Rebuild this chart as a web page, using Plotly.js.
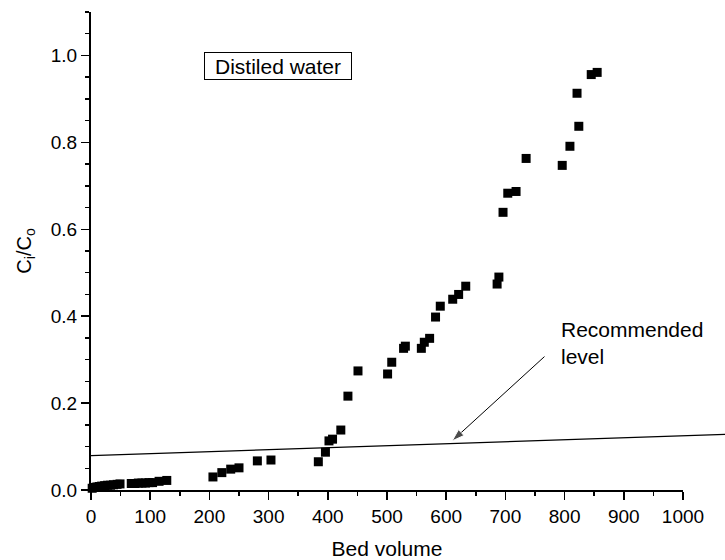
<!DOCTYPE html>
<html>
<head>
<meta charset="utf-8">
<script src="https://cdn.plot.ly/plotly-3.0.1.min.js"></script>
<style>html,body{margin:0;padding:0;background:#fff;}#chart{width:725px;height:560px;}</style>
</head>
<body>
<div id="chart"></div>
<script>
// Bed volume (x) and C_i/C_o (y) for distilled water
const bedVolume = [2, 6, 10, 14, 18, 23, 28, 33, 38, 44, 49,
  68, 74, 80, 86, 92, 98, 104,
  115, 128,
  206, 221, 236, 250, 281, 304,
  384, 396, 402, 408, 422, 434, 451,
  501, 508, 528, 531, 558, 563, 572, 582, 590, 611, 621, 633,
  686, 689, 696, 704, 718, 735,
  796, 809, 821, 824, 845, 855];
const ciCo = [0.004, 0.006, 0.007, 0.008, 0.009, 0.010, 0.011, 0.011, 0.012, 0.013, 0.014,
  0.015, 0.015, 0.016, 0.016, 0.016, 0.017, 0.017,
  0.020, 0.022,
  0.030, 0.040, 0.048, 0.051, 0.067, 0.069,
  0.065, 0.087, 0.113, 0.117, 0.138, 0.216, 0.274,
  0.267, 0.294, 0.326, 0.331, 0.326, 0.340, 0.349, 0.398, 0.423, 0.439, 0.450, 0.469,
  0.474, 0.490, 0.639, 0.683, 0.687, 0.763,
  0.747, 0.791, 0.913, 0.837, 0.956, 0.961];

// Recommended level line (start and end, runs past the axis end)
const levelX = [0, 1071];
const levelY = [0.079, 0.128];

// Arrow pointing to the recommended level: tail, head
const arrowX = [766, 610];
const arrowY = [0.307, 0.113];

const seriesName = 'Distiled water';
const levelLabel = 'Recommended<br>level';

const font = 'Liberation Sans, Arial, sans-serif';
const xDomainEnd = 592 / 634;   // axis ends at 1000, drawing area runs to the page edge

const traces = [
  {
    type: 'scatter', mode: 'lines',
    x: levelX, y: levelY, xaxis: 'x2', yaxis: 'y',
    line: {color: '#000', width: 1.2},
    showlegend: false, hoverinfo: 'skip'
  },
  {
    type: 'scatter', mode: 'markers',
    x: bedVolume, y: ciCo, name: seriesName,
    marker: {symbol: 'square', size: 9, color: '#000'},
    cliponaxis: false, showlegend: false
  },
  {
    type: 'scatter', mode: 'lines+markers',
    x: arrowX, y: arrowY,
    line: {color: '#000', width: 1},
    marker: {symbol: ['circle', 'arrow'], size: [0, 13], color: '#000', angleref: 'previous'},
    cliponaxis: false, showlegend: false, hoverinfo: 'skip'
  }
];

const layout = {
  width: 725,
  height: 560,
  margin: {l: 91, r: 0, t: 12, b: 70},
  paper_bgcolor: '#fff',
  plot_bgcolor: 'rgba(0,0,0,0)',
  font: {family: font, color: '#000', size: 19},
  showlegend: false,
  xaxis: {
    domain: [0, xDomainEnd],
    range: [0, 1000],
    showline: true, linecolor: '#000', linewidth: 2,
    ticks: 'outside', ticklen: 8, tickwidth: 1.5, tickcolor: '#000',
    dtick: 100, tick0: 0,
    minor: {dtick: 50, ticks: 'outside', ticklen: 4, tickwidth: 1.5, tickcolor: '#000'},
    showgrid: false, zeroline: false,
    tickfont: {size: 19},
    title: {text: 'Bed volume', font: {size: 21}, standoff: 22}
  },
  xaxis2: {
    domain: [0, 1],
    range: [0, 1000 / xDomainEnd],
    anchor: 'y',
    visible: false
  },
  yaxis: {
    range: [0, 1.1],
    anchor: 'x',
    showline: true, linecolor: '#000', linewidth: 2,
    ticks: 'outside', ticklen: 8, tickwidth: 1.5, tickcolor: '#000',
    dtick: 0.2, tick0: 0, tickformat: '.1f',
    minor: {dtick: 0.05, ticks: 'outside', ticklen: 4, tickwidth: 1.5, tickcolor: '#000'},
    showgrid: false, zeroline: false,
    tickfont: {size: 19},
    title: {text: 'C<sub>i</sub>/C<sub>o</sub>', font: {size: 20}, standoff: 14}
  },
  annotations: [
    {
      xref: 'x', yref: 'y', x: 790, y: 0.338, xanchor: 'left', yanchor: 'middle',
      text: levelLabel, showarrow: false, align: 'left', font: {size: 21}
    },
    {
      xref: 'x', yref: 'y', x: 316, y: 0.975, xanchor: 'center', yanchor: 'middle',
      text: seriesName, showarrow: false, bordercolor: '#000', borderwidth: 1,
      width: 144, height: 24, font: {size: 21}
    }
  ]
};

Plotly.newPlot('chart', traces, layout, {staticPlot: true, displayModeBar: false});
</script>
</body>
</html>
